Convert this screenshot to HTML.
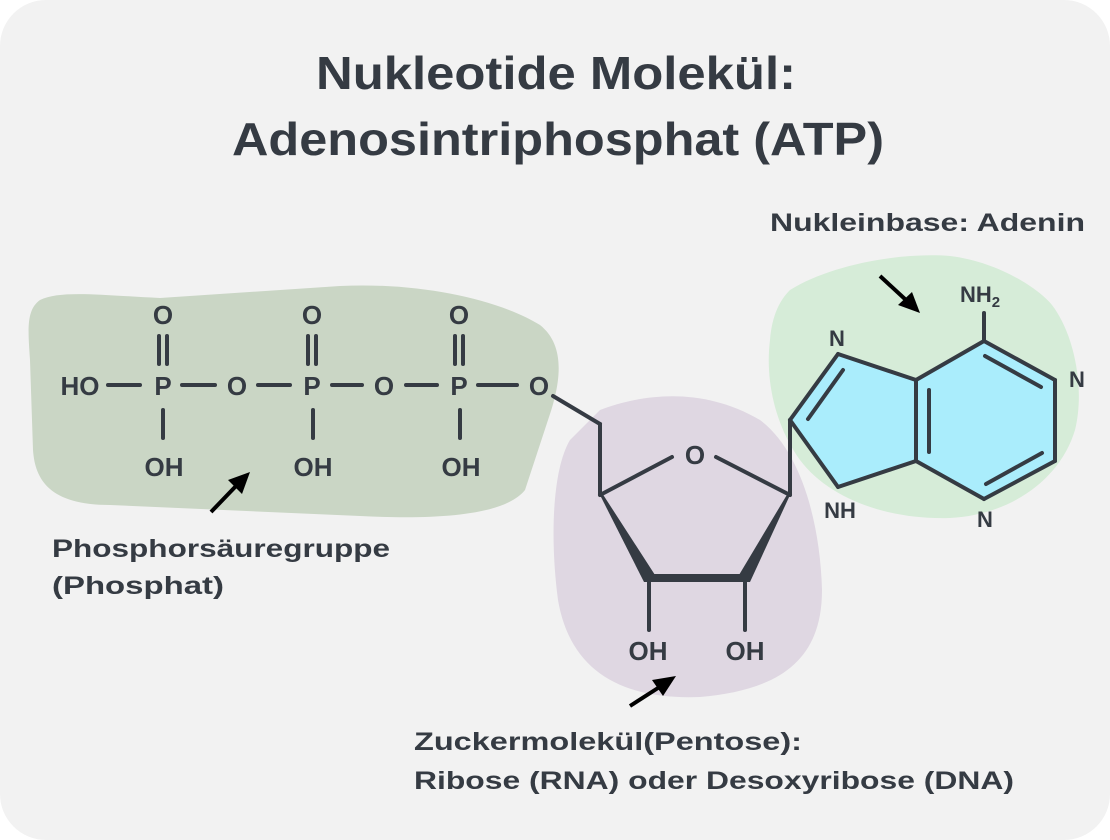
<!DOCTYPE html>
<html><head><meta charset="utf-8"><style>
html,body{margin:0;padding:0;background:#fff;}
svg{display:block;}
text{font-family:"Liberation Sans",sans-serif;fill:#353b43;font-weight:bold;}
</style></head><body>
<svg width="1110" height="840" viewBox="0 0 1110 840" xmlns="http://www.w3.org/2000/svg">
<rect x="0" y="0" width="1110" height="840" rx="46" fill="#f2f2f2"/>
<text x="556" y="89" font-size="46" text-anchor="middle" textLength="480" lengthAdjust="spacingAndGlyphs">Nukleotide Molekül:</text>
<text x="558" y="155" font-size="46" text-anchor="middle" textLength="652" lengthAdjust="spacingAndGlyphs">Adenosintriphosphat (ATP)</text>
<path d="M40,300 C60,290 100,295 160,298 L340,286 C420,282 500,300 540,325 C565,345 562,380 548,420 L525,490 C505,515 440,520 360,516 L110,505 C50,505 35,480 33,450 L30,360 C28,330 26,310 40,300 Z" fill="#cad6c5"/>
<path d="M600,410 C640,395 700,385 760,420 C800,450 820,520 822,590 C822,660 780,690 700,697 C620,700 570,670 558,600 C550,540 552,470 570,440 Z" fill="#dfd7e2"/>
<path d="M790,290 C830,265 900,252 950,256 C1000,262 1040,290 1052,305 C1075,335 1085,390 1075,430 C1060,480 1010,515 950,518 C890,520 830,500 800,460 C775,425 765,380 770,340 C772,315 780,300 790,290 Z" fill="#d6ecd8"/>
<polygon points="790,420 838,354 916,380 984,341 1055,380 1055,461 984,499 916,461 838,487" fill="#aaedfc"/>
<g stroke="#353b43" stroke-width="4" fill="none" stroke-linecap="round" stroke-linejoin="round">
<line x1="108" y1="385" x2="140" y2="385"/>
<line x1="182" y1="385" x2="215" y2="385"/>
<line x1="258" y1="385" x2="290" y2="385"/>
<line x1="332" y1="385" x2="362" y2="385"/>
<line x1="406" y1="385" x2="437" y2="385"/>
<line x1="478" y1="385" x2="517" y2="385"/>
<line x1="159" y1="336" x2="159" y2="364"/><line x1="167" y1="336" x2="167" y2="364"/>
<line x1="308" y1="336" x2="308" y2="364"/><line x1="316" y1="336" x2="316" y2="364"/>
<line x1="455" y1="336" x2="455" y2="364"/><line x1="463" y1="336" x2="463" y2="364"/>
<line x1="163" y1="410" x2="163" y2="438"/>
<line x1="313" y1="410" x2="313" y2="438"/>
<line x1="460" y1="410" x2="460" y2="438"/>
<line x1="553" y1="396" x2="600" y2="424"/>
<line x1="600" y1="424" x2="600" y2="495"/>
<line x1="600" y1="495" x2="672" y2="457"/>
<line x1="716" y1="457" x2="790" y2="495"/>
<line x1="790" y1="495" x2="790" y2="420"/>
<line x1="649" y1="580" x2="649" y2="630"/>
<line x1="745" y1="580" x2="745" y2="630"/>
<line x1="790" y1="420" x2="838" y2="354"/>
<line x1="838" y1="354" x2="916" y2="380"/>
<line x1="916" y1="380" x2="916" y2="461"/>
<line x1="916" y1="461" x2="838" y2="487"/>
<line x1="838" y1="487" x2="790" y2="420"/>
<line x1="843" y1="370" x2="808" y2="419"/>
<line x1="916" y1="380" x2="984" y2="341"/>
<line x1="984" y1="341" x2="1055" y2="380"/>
<line x1="1055" y1="380" x2="1055" y2="461"/>
<line x1="1055" y1="461" x2="984" y2="499"/>
<line x1="984" y1="499" x2="916" y2="461"/>
<line x1="929" y1="390" x2="929" y2="452"/>
<line x1="985" y1="356" x2="1041" y2="387"/>
<line x1="986" y1="484" x2="1042" y2="453"/>
<line x1="984" y1="341" x2="984" y2="313"/>
</g>
<polygon points="600,495 602,493 655,575 655,582 644,582" fill="#353b43"/>
<polygon points="790,495 788,493 739,575 739,582 750,582" fill="#353b43"/>
<rect x="645" y="574" width="104" height="8" fill="#353b43"/>
<g font-size="26" text-anchor="middle" style="font-weight:600">
<text x="80" y="395">HO</text>
<text x="163" y="395">P</text><text x="237" y="395">O</text>
<text x="312" y="395">P</text><text x="384" y="395">O</text>
<text x="459" y="395">P</text><text x="539" y="395">O</text>
<text x="163" y="324">O</text><text x="312" y="324">O</text><text x="459" y="324">O</text>
<text x="164" y="476">OH</text><text x="313" y="476">OH</text><text x="461" y="476">OH</text>
<text x="695" y="464">O</text>
<text x="648" y="660">OH</text><text x="745" y="660">OH</text>
</g>
<g font-size="22" text-anchor="middle">
<text x="837" y="346">N</text>
<text x="840" y="518">NH</text>
<text x="1077" y="387">N</text>
<text x="985" y="527">N</text>
<text x="980" y="302">NH<tspan font-size="15" dy="5">2</tspan></text>
</g>
<g stroke="#000" stroke-width="4">
<line x1="211" y1="512" x2="236" y2="486"/>
<line x1="880" y1="276" x2="906" y2="300"/>
<line x1="630" y1="706" x2="658" y2="688"/>
</g>
<polygon points="250,472 228,480 242,494" fill="#000"/>
<polygon points="920,313 898,305 912,292" fill="#000"/>
<polygon points="676,676 652,680 663,696" fill="#000"/>
<g font-size="25">
<text x="770" y="231" textLength="315" lengthAdjust="spacingAndGlyphs">Nukleinbase: Adenin</text>
<text x="52" y="557" textLength="338" lengthAdjust="spacingAndGlyphs">Phosphorsäuregruppe</text>
<text x="52" y="594" textLength="172" lengthAdjust="spacingAndGlyphs">(Phosphat)</text>
<text x="414" y="750" textLength="388" lengthAdjust="spacingAndGlyphs">Zuckermolekül(Pentose):</text>
<text x="414" y="789" textLength="600" lengthAdjust="spacingAndGlyphs">Ribose (RNA) oder Desoxyribose (DNA)</text>
</g>
</svg>
</body></html>
